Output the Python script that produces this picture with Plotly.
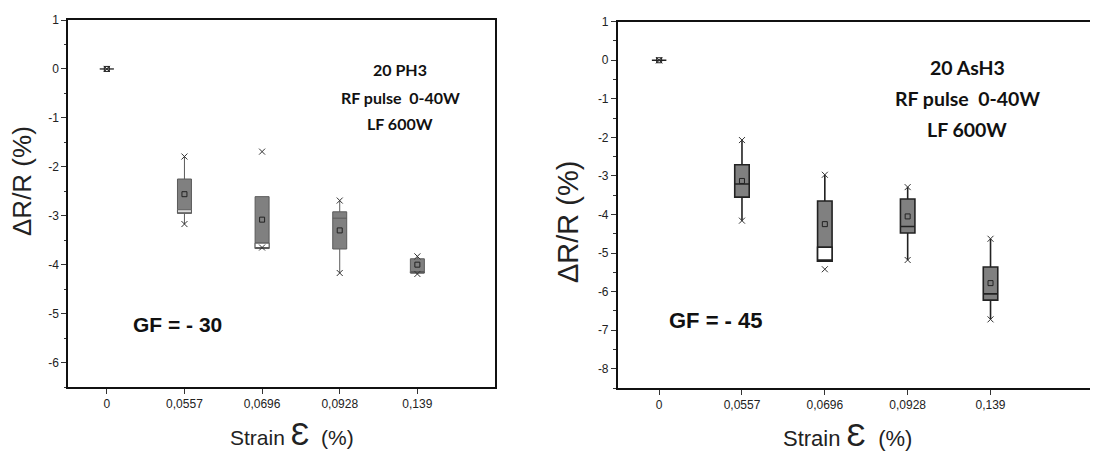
import plotly.graph_objects as go

# ---------------- data ----------------
strain_labels = ["0", "0,0557", "0,0696", "0,0928", "0,139"]
ph3_yticks = [1, 0, -1, -2, -3, -4, -5, -6]
ph3_yticklabels = ["1", "0", "-1", "-2", "-3", "-4", "-5", "-6"]
ash3_yticks = [1, 0, -1, -2, -3, -4, -5, -6, -7, -8]
ash3_yticklabels = ["1", "0", "-1", "-2", "-3", "-4", "-5", "-6", "-7", "-8"]

# Panel A : 20 PH3
ph3_max = [0.0, -1.79, -1.69, -2.69, -3.83]
ph3_q3 = [0.0, -2.25, -2.61, -2.92, -3.88]
ph3_median = [0.0, -2.88, -3.56, -3.05, -4.14]
ph3_q1 = [0.0, -2.95, -3.67, -3.68, -4.17]
ph3_min = [0.0, -3.17, -3.65, -4.17, -4.19]
ph3_mean = [0.0, -2.56, -3.08, -3.30, -4.00]
ph3_upper_whisker = [0.0, -1.79, -2.61, -2.69, -3.83]
ph3_lower_whisker = [0.0, -3.17, -3.67, -4.17, -4.19]
ph3_open_lower = [False, True, True, False, True]

# Panel B : 20 AsH3
ash3_max = [0.0, -2.07, -2.97, -3.29, -4.63]
ash3_q3 = [0.0, -2.71, -3.65, -3.60, -5.36]
ash3_median = [0.0, -3.21, -4.85, -4.31, -6.06]
ash3_q1 = [0.0, -3.55, -5.21, -4.48, -6.22]
ash3_min = [0.0, -4.16, -5.42, -5.18, -6.72]
ash3_mean = [0.0, -3.13, -4.25, -4.05, -5.78]
ash3_upper_whisker = [0.0, -2.07, -2.97, -3.29, -4.63]
ash3_lower_whisker = [0.0, -4.16, -5.21, -5.18, -6.72]
ash3_open_lower = [False, False, True, False, False]

# page is rendered with an 8px body margin -> compensate
OFF = 8
W, H = 1098 - OFF, 454 - OFF

fig = go.Figure()


def add_panel(xa, ya, q1, med, q3, lo, hi, mx, mn, mean, open_lower,
              line_color, line_width, box_w):
    fig.add_trace(go.Box(
        x=strain_labels, q1=q1, median=med, q3=q3,
        lowerfence=lo, upperfence=hi,
        fillcolor="#808080", line=dict(color=line_color, width=line_width),
        whiskerwidth=0, width=box_w, boxpoints=False,
        xaxis=xa, yaxis=ya, showlegend=False, hoverinfo="skip"))
    idx = [i for i, f in enumerate(open_lower) if f]
    fig.add_trace(go.Box(
        x=[strain_labels[i] for i in idx],
        q1=[q1[i] for i in idx], median=[q1[i] for i in idx],
        q3=[med[i] for i in idx],
        lowerfence=[q1[i] for i in idx], upperfence=[med[i] for i in idx],
        fillcolor="white", line=dict(color=line_color, width=line_width),
        whiskerwidth=0, width=box_w, boxpoints=False,
        xaxis=xa, yaxis=ya, showlegend=False, hoverinfo="skip"))
    fig.add_trace(go.Scatter(
        x=strain_labels + strain_labels, y=mx + mn, mode="markers",
        marker=dict(symbol="x-thin-open", size=6, color="#333333",
                    line=dict(color="#333333", width=1)),
        xaxis=xa, yaxis=ya, showlegend=False, hoverinfo="skip"))
    fig.add_trace(go.Scatter(
        x=strain_labels, y=mean, mode="markers",
        marker=dict(symbol="square-open", size=5, color="#222222",
                    line=dict(color="#222222", width=1)),
        xaxis=xa, yaxis=ya, showlegend=False, hoverinfo="skip"))


add_panel("x", "y", ph3_q1, ph3_median, ph3_q3, ph3_lower_whisker,
          ph3_upper_whisker, ph3_max, ph3_min, ph3_mean, ph3_open_lower,
          "#5a5a5a", 1, 0.18)
add_panel("x2", "y2", ash3_q1, ash3_median, ash3_q3, ash3_lower_whisker,
          ash3_upper_whisker, ash3_max, ash3_min, ash3_mean, ash3_open_lower,
          "#222222", 1.6, 0.175)

tickfont = dict(family="Liberation Sans, Arial, sans-serif", size=12, color="#222222")
axis_common = dict(showgrid=False, zeroline=False, showline=True,
                   linecolor="#111111", linewidth=1.5, automargin=False,
                   ticks="outside", ticklen=5, tickwidth=1.2, tickcolor="#333333",
                   tickfont=tickfont)

# pixel geometry (page coords) -> figure coords
xl0, xl1, yl0, yl1 = 68 - OFF, 495 - OFF, 20 - OFF, 387 - OFF
xr0, xr1, yr0, yr1 = 617.7 - OFF, 1098 - OFF, 21.7 - OFF, 388 - OFF

fig.update_layout(
    template=None,
    width=W, height=H, margin=dict(l=0, r=0, t=0, b=0, autoexpand=False),
    paper_bgcolor="white", plot_bgcolor="white", boxmode="overlay",
    xaxis=dict(axis_common, domain=[xl0 / W, xl1 / W], anchor="y",
               type="category", range=[-0.5, 5.0], mirror=True,
               categoryorder="array", categoryarray=strain_labels),
    yaxis=dict(axis_common, domain=[1 - yl1 / H, 1 - yl0 / H], anchor="x",
               range=[-6.5, 1], tickvals=ph3_yticks, ticktext=ph3_yticklabels,
               mirror=True,
               minor=dict(dtick=0.5, ticks="outside", ticklen=2.5,
                          tickcolor="#333333", showgrid=False)),
    xaxis2=dict(axis_common, domain=[xr0 / W, xr1 / W], anchor="y2",
                type="category", range=[-0.5, -0.5 + (xr1 - xr0) / 82.85],
                mirror=True,
                categoryorder="array", categoryarray=strain_labels),
    yaxis2=dict(axis_common, domain=[1 - yr1 / H, 1 - yr0 / H], anchor="x2",
                range=[-8.5, 1], tickvals=ash3_yticks, ticktext=ash3_yticklabels,
                mirror=False,
                minor=dict(dtick=0.5, ticks="outside", ticklen=2.5,
                           tickcolor="#333333", showgrid=False)),
)

ann = []
label_font = "Liberation Sans, Arial, sans-serif"


def add_text(px, py, text, font, angle=0):
    ann.append(dict(x=(px - OFF) / W, y=1 - (py - OFF) / H, xref="paper", yref="paper",
                    xanchor="center", yanchor="middle", text=text, textangle=angle,
                    showarrow=False, font=font))


# axis titles
add_text(22, 181, "ΔR/R (%)", dict(family=label_font, size=26, color="#222222"), -90)
add_text(568, 222, "ΔR/R (%)", dict(family=label_font, size=29, color="#222222"), -90)
add_text(292, 434, "Strain <span style='font-size:31px'>Ɛ</span>  (%)",
         dict(family=label_font, size=21, color="#222222"))
add_text(847, 435, "Strain <span style='font-size:32px'>Ɛ</span>  (%)",
         dict(family=label_font, size=22, color="#222222"))

# condition texts
cond_font_l = dict(family="Lato, Open Sans, sans-serif", size=16, color="#111111")
cond_font_r = dict(family="Lato, Open Sans, sans-serif", size=19.5, color="#111111")
for txt, yy in [("<b>20 PH3</b>", 69), ("<b>RF pulse  0-40W</b>", 97), ("<b>LF 600W</b>", 124)]:
    add_text(400, yy, txt, cond_font_l)
for txt, yy in [("<b>20 AsH3</b>", 67), ("<b>RF pulse  0-40W</b>", 98), ("<b>LF 600W</b>", 129)]:
    add_text(967, yy, txt, cond_font_r)

add_text(177, 324, "<b>GF = - 30</b>", dict(family=label_font, size=21, color="#111111"))
add_text(716, 320, "<b>GF = - 45</b>", dict(family=label_font, size=22, color="#111111"))

fig.update_layout(annotations=ann)

fig.write_html("out.html")
